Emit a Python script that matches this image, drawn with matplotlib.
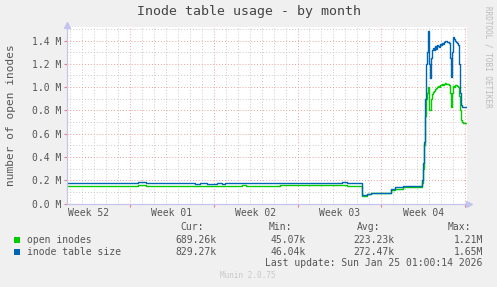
"""
Munin "Inode table usage - by month" graph, redrawn with matplotlib.
x is in days since Sun Dec 28 00:00 (week lines on Sundays), y in millions.
"""

import matplotlib

matplotlib.use("Agg")
import matplotlib.pyplot as plt
from matplotlib.ticker import FuncFormatter, MultipleLocator

# ---------------------------------------------------------------------------
# Data
# ---------------------------------------------------------------------------

X_START, X_END = -5.27, 28.17
Y_TOP = 1.516

WEEK_LABELS = ["Week 52", "Week 01", "Week 02", "Week 03", "Week 04"]
WEEK_LABEL_DAYS = [-3.5, 3.5, 10.5, 17.5, 24.5]

# inode table size (blue)
size_days = [
    -5.27, 0.64, 1.31, 5.43, 5.85, 6.44, 7.27, 7.69, 7.94, 17.72, 18.14,
    19.42, 19.78, 20.14, 21.70, 21.82, 22.15, 22.79,
    24.41, 24.49, 24.58, 24.66, 24.74, 24.83, 24.91, 25.00, 25.08, 25.16,
    25.25, 25.33, 25.42, 25.50, 25.58, 25.66, 25.75, 25.83, 25.91, 26.00,
    26.08, 26.16, 26.25, 26.33, 26.41, 26.50, 26.58, 26.66, 26.75, 26.83,
    26.91, 27.00, 27.08, 27.16, 27.25, 27.33, 27.41, 27.50, 27.58, 27.66,
    27.75, 28.17,
]
size_vals = [
    0.176, 0.185, 0.176, 0.165, 0.176, 0.165, 0.176, 0.165, 0.176, 0.186, 0.176,
    0.073, 0.082, 0.093, 0.093, 0.122, 0.139, 0.153,
    0.20, 0.35, 0.53, 0.90, 1.20, 1.30, 1.48, 1.20, 1.08, 1.25,
    1.32, 1.335, 1.32, 1.35, 1.33, 1.36, 1.35, 1.34, 1.37, 1.36,
    1.38, 1.37, 1.39, 1.40, 1.395, 1.39, 1.385, 1.38, 1.25, 1.09,
    1.30, 1.43, 1.41, 1.40, 1.385, 1.38, 1.36, 1.20, 0.95, 0.85,
    0.83, 0.83,
]

# open inodes (green)
open_days = [
    -5.27, 0.64, 1.31, 9.36, 9.70, 12.54, 18.14,
    19.42, 19.78, 20.14, 21.82, 22.15, 22.79,
    24.41, 24.49, 24.58, 24.66, 24.74, 24.83, 24.91, 25.00, 25.08, 25.16,
    25.25, 25.33, 25.42, 25.50, 25.58, 25.66, 25.75, 25.83, 25.91, 26.00,
    26.08, 26.16, 26.25, 26.33, 26.41, 26.50, 26.58, 26.66, 26.75, 26.83,
    26.91, 27.00, 27.08, 27.16, 27.25, 27.33, 27.41, 27.50, 27.58, 27.66,
    27.75, 27.83, 28.17,
]
open_vals = [
    0.148, 0.159, 0.148, 0.155, 0.148, 0.158, 0.150,
    0.068, 0.078, 0.090, 0.116, 0.127, 0.144,
    0.18, 0.30, 0.50, 0.75, 0.90, 0.95, 1.00, 0.80, 0.80, 0.90,
    0.94, 0.96, 0.97, 0.98, 0.99, 1.00, 1.01, 1.00, 1.02, 1.02,
    1.03, 1.02, 1.03, 1.035, 1.03, 1.025, 1.025, 1.02, 0.95, 0.83,
    0.95, 1.01, 1.00, 1.02, 1.02, 1.01, 1.00, 0.92, 0.80, 0.72,
    0.70, 0.69, 0.69,
]

LEGEND_NAMES = ["open inodes", "inode table size"]
LEGEND_COLORS = ["#00CC00", "#0066B3"]
CUR = ["689.26k", "829.27k"]
MIN = ["45.07k", "46.04k"]
AVG = ["223.23k", "272.47k"]
MAX = ["1.21M", "1.65M"]

W, H = 497, 287
MONO = "DejaVu Sans Mono"
TEXT = "#555555"


def fx(x):
    return x / W


def fy(y):
    return 1 - y / H


def main() -> None:
    fig = plt.figure(figsize=(W / 100, H / 100), dpi=100, facecolor="#F0F0F0")
    ax = fig.add_axes([fx(67), fy(203.5), 400 / W, (203.5 - 27) / H])
    ax.set_facecolor("white")
    ax.set_xlim(X_START, X_END)
    ax.set_ylim(0, Y_TOP)
    for s in ax.spines.values():
        s.set_visible(False)

    # grid: days / 0.1M minor (gray), weeks / 0.2M major (red)
    ax.xaxis.set_minor_locator(MultipleLocator(1))
    ax.xaxis.set_major_locator(MultipleLocator(7))
    ax.yaxis.set_minor_locator(MultipleLocator(0.1))
    ax.yaxis.set_major_locator(MultipleLocator(0.2))
    ax.grid(which="minor", color="#C8C8C8", linestyle=(0, (1, 2)), linewidth=0.7)
    ax.grid(which="major", color="#E8A0A0", linestyle=(0, (1, 2)), linewidth=0.7)
    ax.set_axisbelow(True)

    ax.yaxis.set_major_formatter(FuncFormatter(lambda v, p: f"{v:.1f} M"))
    ax.tick_params(axis="y", which="major", length=2, width=0.8, color="#E08080",
                   labelsize=7, labelcolor=TEXT, pad=2)
    ax.tick_params(axis="both", which="minor", length=0)
    ax.tick_params(axis="x", which="major", length=2, width=0.8, color="#E08080",
                   labelbottom=False)
    for lab in ax.get_yticklabels():
        lab.set_fontfamily(MONO)

    # week labels centred in each week
    for d, lab in zip(WEEK_LABEL_DAYS, WEEK_LABELS):
        ax.text(d, -0.04, lab, ha="center", va="top", fontsize=7,
                family=MONO, color=TEXT, clip_on=False)

    # series
    ax.plot(open_days, open_vals, drawstyle="steps-post",
            color=LEGEND_COLORS[0], linewidth=1.0)
    ax.plot(size_days, size_vals, drawstyle="steps-post",
            color=LEGEND_COLORS[1], linewidth=1.0)

    # axes with arrows
    axis_col = "#C4C4EE"
    ax.plot([X_START, X_END], [0, 0], color=axis_col, linewidth=0.9,
            clip_on=False)
    ax.plot([X_START, X_START], [0, Y_TOP], color=axis_col, linewidth=0.9,
            clip_on=False)
    ax.plot([X_END + 0.2], [0], marker=">", markersize=4, color=axis_col,
            clip_on=False)
    ax.plot([X_START], [Y_TOP + 0.02], marker="^", markersize=4,
            color=axis_col, clip_on=False)

    # title and labels
    fig.text(fx(249), fy(12), "Inode table usage - by month", ha="center",
             va="center", fontsize=9.5, family=MONO, color="#444444")
    fig.text(fx(11), fy(115), "number of open inodes", rotation=90,
             ha="center", va="center", fontsize=8, family=MONO, color=TEXT)
    fig.text(fx(488), fy(6), "RRDTOOL / TOBI OETIKER", rotation=270,
             ha="center", va="top", fontsize=5.5, family=MONO, color="#BBBBBB")

    # legend table
    fs = 7
    for x, head in [(204, "Cur:"), (292, "Min:"), (380, "Avg:"), (471, "Max:")]:
        fig.text(fx(x), fy(227), head, ha="right", va="center", fontsize=fs,
                 family=MONO, color=TEXT)
    for i, name in enumerate(LEGEND_NAMES):
        y = 240 + 12 * i
        fig.patches.append(plt.Rectangle((fx(14), fy(y + 3)), 6 / W, 6 / H,
                                         transform=fig.transFigure,
                                         facecolor=LEGEND_COLORS[i],
                                         edgecolor="none"))
        fig.text(fx(27), fy(y), name, ha="left", va="center", fontsize=fs,
                 family=MONO, color=TEXT)
        for x, col in [(217, CUR), (306, MIN), (394, AVG), (483, MAX)]:
            fig.text(fx(x), fy(y), col[i], ha="right", va="center",
                     fontsize=fs, family=MONO, color=TEXT)

    fig.text(fx(482), fy(263), "Last update: Sun Jan 25 01:00:14 2026",
             ha="right", va="center", fontsize=fs, family=MONO, color=TEXT)
    fig.text(fx(248), fy(276), "Munin 2.0.75", ha="center", va="center",
             fontsize=5.5, family=MONO, color="#C8C8C8")

    fig.savefig("out.png", dpi=100, facecolor=fig.get_facecolor())


if __name__ == "__main__":
    main()
